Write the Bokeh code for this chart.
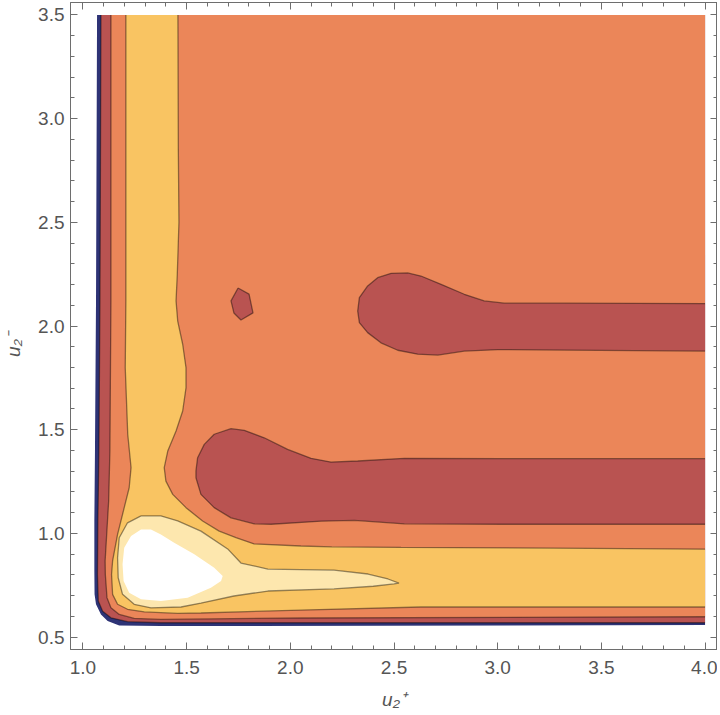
from bokeh.plotting import figure
from bokeh.models import Range1d, LinearAxis, FixedTicker, PrintfTickFormatter, CustomJSTickFormatter
from bokeh.embed import file_html
from bokeh.resources import INLINE

# ---- domain / ticks -------------------------------------------------------
X_EDGE = 4.0          # right end of the sampled domain
Y_EDGE = 3.5          # top end of the sampled domain
X_TICKS = [1.0, 1.5, 2.0, 2.5, 3.0, 3.5, 4.0]
Y_TICKS = [0.5, 1.0, 1.5, 2.0, 2.5, 3.0, 3.5]
X_MINOR = [1.1, 1.2, 1.3, 1.4, 1.6, 1.7, 1.8, 1.9, 2.1, 2.2, 2.3, 2.4, 2.6, 2.7,
           2.8, 2.9, 3.1, 3.2, 3.3, 3.4, 3.6, 3.7, 3.8, 3.9]
Y_MINOR = [0.6, 0.7, 0.8, 0.9, 1.1, 1.2, 1.3, 1.4, 1.6, 1.7, 1.8, 1.9, 2.1, 2.2,
           2.3, 2.4, 2.6, 2.7, 2.8, 2.9, 3.1, 3.2, 3.3, 3.4]

# ---- contour level colours (low -> high) ------------------------------------
C_NAVY = "#2e3376"
C_RED = "#b95351"
C_ORANGE = "#eb8659"
C_YELLOW = "#f9c462"
C_LIGHT = "#fde7ae"
C_WHITE = "#ffffff"

# ---- contour boundaries ---------------------------------------------------
NAVY_X = [1.068, 1.063, 1.058, 1.055, 1.055, 1.056, 1.063, 1.087, 1.119, 1.175, 1.376, 4.0]
NAVY_Y = [3.5, 2.121, 1.397, 1.060, 0.818, 0.706, 0.658, 0.609, 0.577, 0.556, 0.553, 0.558]

RED_X = [1.087, 1.082, 1.077, 1.072, 1.070, 1.074, 1.095, 1.135, 1.215, 1.376, 4.0]
RED_Y = [3.5, 2.121, 1.397, 1.060, 0.802, 0.674, 0.625, 0.593, 0.574, 0.569, 0.569]

ORANGE_X = [1.135, 1.135, 1.130, 1.124, 1.107, 1.108, 1.116, 1.135, 1.175, 1.247,
            1.376, 2.051, 4.0]
ORANGE_Y = [3.5, 2.121, 1.397, 1.156, 0.867, 0.802, 0.690, 0.641, 0.609, 0.590,
            0.585, 0.592, 0.598]

YEL_OUT_X = [1.207, 1.207, 1.207, 1.204, 1.216, 1.232, 1.223, 1.199, 1.167, 1.143,
             1.138, 1.143, 1.167, 1.215, 1.296, 1.457, 1.569, 2.051, 2.630, 4.0]
YEL_OUT_Y = [3.5, 2.603, 2.121, 1.799, 1.478, 1.317, 1.220, 1.124, 0.995, 0.867,
             0.802, 0.706, 0.658, 0.634, 0.621, 0.614, 0.616, 0.630, 0.645, 0.645]
YEL_IN_X = [4.0, 3.257, 2.534, 2.200, 2.051, 1.825, 1.738, 1.657, 1.577, 1.497,
            1.433, 1.400, 1.392, 1.409, 1.449, 1.481, 1.497, 1.497, 1.481, 1.457,
            1.449, 1.455, 1.463, 1.460, 1.458]
YEL_IN_Y = [0.924, 0.929, 0.932, 0.935, 0.939, 0.949, 0.979, 1.011, 1.060, 1.124,
            1.188, 1.252, 1.317, 1.397, 1.494, 1.590, 1.702, 1.799, 1.912, 2.024,
            2.121, 2.250, 2.500, 2.850, 3.5]

LIGHT_X = [1.280, 1.215, 1.175, 1.167, 1.170, 1.191, 1.247, 1.328, 1.473, 1.569,
           1.728, 1.892, 2.211, 2.400, 2.500, 2.524, 2.471, 2.375, 2.211, 1.892,
           1.762, 1.698, 1.569, 1.457, 1.376]
LIGHT_Y = [1.084, 1.051, 0.979, 0.882, 0.786, 0.706, 0.658, 0.641, 0.645, 0.664,
           0.698, 0.722, 0.732, 0.745, 0.756, 0.760, 0.780, 0.804, 0.823, 0.828,
           0.857, 0.925, 1.011, 1.060, 1.084]

WHITE_X = [1.280, 1.232, 1.199, 1.191, 1.196, 1.223, 1.280, 1.376, 1.505, 1.617,
           1.666, 1.674, 1.633, 1.537, 1.440, 1.376, 1.328]
WHITE_Y = [1.019, 0.987, 0.931, 0.851, 0.770, 0.714, 0.682, 0.674, 0.690, 0.738,
           0.770, 0.794, 0.834, 0.899, 0.955, 0.995, 1.019]

TONGUE_LO_X = [4.0, 3.032, 2.550, 2.309, 2.148, 1.907, 1.826, 1.714, 1.633, 1.569,
               1.545, 1.545, 1.553, 1.585, 1.633, 1.714, 1.778, 1.874, 1.987, 2.100,
               2.196, 2.325, 2.550, 3.032, 4.0]
TONGUE_LO_Y = [1.044, 1.044, 1.046, 1.063, 1.059, 1.044, 1.046, 1.075, 1.124, 1.188,
               1.268, 1.301, 1.365, 1.429, 1.478, 1.505, 1.497, 1.461, 1.405, 1.362,
               1.344, 1.349, 1.362, 1.360, 1.360]

TONGUE_HI_X = [4.0, 3.321, 3.000, 2.839, 2.711, 2.614, 2.518, 2.437, 2.373, 2.333,
               2.325, 2.333, 2.373, 2.421, 2.486, 2.566, 2.630, 2.727, 2.839, 2.935,
               3.032, 3.321, 4.0]
TONGUE_HI_Y = [1.879, 1.884, 1.886, 1.879, 1.860, 1.864, 1.883, 1.919, 1.968, 2.016,
               2.072, 2.137, 2.193, 2.233, 2.254, 2.256, 2.241, 2.201, 2.153, 2.121,
               2.110, 2.110, 2.108]

ISLAND_X = [1.748, 1.801, 1.820, 1.762, 1.728, 1.714]
ISLAND_Y = [2.183, 2.154, 2.063, 2.029, 2.063, 2.121]

# ---- figure ---------------------------------------------------------------
FRAME = "#6e6e6e"
TXT = "#555555"

p = figure(frame_width=647, frame_height=647,
           x_range=Range1d(0.94, 4.06), y_range=Range1d(0.44, 3.56),
           output_backend="svg", toolbar_location=None,
           min_border_left=70, min_border_right=0, min_border_top=2, min_border_bottom=0,
           x_axis_label="u\u2082\u207a", y_axis_label="u\u2082\u207b\u2003\u2003")
p.grid.visible = False
p.background_fill_color = "white"
p.border_fill_color = "white"
p.outline_line_color = FRAME
p.outline_line_width = 1

def closed_to_corner(xs, ys):
    return xs + [X_EDGE], ys + [Y_EDGE]

LINE = dict(line_color="black", line_alpha=0.42, line_width=1.3)

for xs, ys, col in [(NAVY_X, NAVY_Y, C_NAVY), (RED_X, RED_Y, C_RED),
                    (ORANGE_X, ORANGE_Y, C_ORANGE)]:
    px, py = closed_to_corner(xs, ys)
    p.patch(px, py, fill_color=col, line_color=None)

p.patch(YEL_OUT_X + YEL_IN_X, YEL_OUT_Y + YEL_IN_Y, fill_color=C_YELLOW, line_color=None)
p.patch(LIGHT_X, LIGHT_Y, fill_color=C_LIGHT, line_color=None)
p.patch(WHITE_X, WHITE_Y, fill_color=C_WHITE, line_color=None)
p.patch(TONGUE_LO_X, TONGUE_LO_Y, fill_color=C_RED, line_color=None)
p.patch(TONGUE_HI_X, TONGUE_HI_Y, fill_color=C_RED, line_color=None)
p.patch(ISLAND_X, ISLAND_Y, fill_color=C_RED, line_color=None)

p.line(RED_X, RED_Y, **LINE)
p.line(ORANGE_X, ORANGE_Y, **LINE)
p.line(YEL_OUT_X, YEL_OUT_Y, **LINE)
p.line(YEL_IN_X, YEL_IN_Y, **LINE)
p.line(LIGHT_X + LIGHT_X[:1], LIGHT_Y + LIGHT_Y[:1], **LINE)
p.line(TONGUE_LO_X, TONGUE_LO_Y, **LINE)
p.line(TONGUE_HI_X, TONGUE_HI_Y, **LINE)
p.line(ISLAND_X + ISLAND_X[:1], ISLAND_Y + ISLAND_Y[:1], **LINE)

# ---- axes -----------------------------------------------------------------
def style_axis(ax, labels=True):
    ax.axis_line_color = FRAME
    ax.major_tick_line_color = FRAME
    ax.minor_tick_line_color = FRAME
    ax.major_tick_in = 7
    ax.major_tick_out = 0
    ax.minor_tick_in = 4
    ax.minor_tick_out = 0
    if labels:
        ax.formatter = PrintfTickFormatter(format="%.1f")
        ax.major_label_text_font = "Liberation Sans"
        ax.major_label_text_font_size = "19px"
        ax.major_label_text_color = TXT
        ax.axis_label_text_font = "Liberation Sans"
        ax.axis_label_text_font_size = "19px"
        ax.axis_label_text_font_style = "italic"
        ax.axis_label_text_color = TXT
    else:
        ax.formatter = CustomJSTickFormatter(code="return ''")
        ax.major_label_text_font_size = "1px"
        ax.major_label_standoff = 0

p.xaxis.ticker = FixedTicker(ticks=X_TICKS, minor_ticks=X_MINOR)
p.yaxis.ticker = FixedTicker(ticks=Y_TICKS, minor_ticks=Y_MINOR)
for ax in p.xaxis:
    style_axis(ax)
    ax.major_label_standoff = 11
    ax.axis_label_standoff = 12
for ax in p.yaxis:
    style_axis(ax)
    ax.major_label_standoff = 6
    ax.axis_label_standoff = 11

top = LinearAxis(ticker=FixedTicker(ticks=X_TICKS, minor_ticks=X_MINOR))
style_axis(top, labels=False)
p.add_layout(top, "above")
right = LinearAxis(ticker=FixedTicker(ticks=Y_TICKS, minor_ticks=Y_MINOR))
style_axis(right, labels=False)
p.add_layout(right, "right")

open("out.html", "w").write(file_html(p, INLINE))
